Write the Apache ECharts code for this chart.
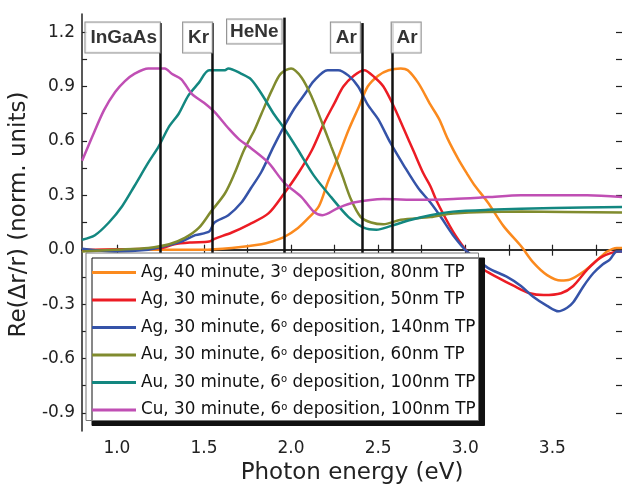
<!DOCTYPE html>
<html>
<head>
<meta charset="utf-8">
<script src="https://cdn.jsdelivr.net/npm/echarts@6/dist/echarts.min.js"></script>
<style>
  html, body { margin: 0; padding: 0; background: #fff; }
  #chart { width: 622px; height: 492px; }
</style>
</head>
<body>
<div id="chart"></div>
<script>
// --- data: [photon energy (eV), Re(dr/r)] ---
const ag80 = [[0.80,-0.005],[1.00,0.0],[1.20,0.0],[1.49,0.0],[1.66,0.01],[1.83,0.03],[1.89,0.045],[1.96,0.07],[2.04,0.12],[2.10,0.175],[2.16,0.24],[2.21,0.37],[2.27,0.51],[2.33,0.66],[2.39,0.79],[2.44,0.90],[2.50,0.96],[2.56,0.99],[2.63,1.0],[2.67,0.99],[2.73,0.92],[2.80,0.80],[2.85,0.72],[2.90,0.61],[2.96,0.50],[3.01,0.42],[3.05,0.36],[3.13,0.26],[3.22,0.13],[3.32,0.02],[3.39,-0.07],[3.47,-0.14],[3.55,-0.17],[3.60,-0.165],[3.68,-0.12],[3.76,-0.055],[3.815,-0.01],[3.87,0.01],[3.90,0.01]];
const ag50 = [[0.80,0.0],[1.26,0.01],[1.33,0.03],[1.43,0.04],[1.53,0.045],[1.56,0.06],[1.66,0.095],[1.76,0.14],[1.87,0.20],[1.96,0.31],[2.04,0.42],[2.12,0.55],[2.19,0.70],[2.25,0.81],[2.30,0.90],[2.36,0.96],[2.42,0.99],[2.48,0.95],[2.53,0.90],[2.59,0.79],[2.65,0.66],[2.705,0.54],[2.76,0.42],[2.80,0.35],[2.84,0.26],[2.93,0.10],[3.01,-0.01],[3.09,-0.10],[3.19,-0.155],[3.28,-0.20],[3.37,-0.24],[3.45,-0.25],[3.55,-0.24],[3.62,-0.20],[3.70,-0.11],[3.775,-0.045],[3.85,-0.015],[3.90,-0.01]];
const ag140 = [[0.80,0.005],[0.99,-0.01],[1.18,0.0],[1.275,0.02],[1.37,0.045],[1.45,0.08],[1.53,0.10],[1.56,0.15],[1.64,0.19],[1.715,0.26],[1.77,0.34],[1.83,0.43],[1.90,0.57],[1.96,0.68],[2.02,0.78],[2.08,0.86],[2.13,0.93],[2.21,0.99],[2.27,0.99],[2.33,0.96],[2.385,0.90],[2.44,0.80],[2.50,0.72],[2.57,0.59],[2.65,0.46],[2.73,0.34],[2.80,0.26],[2.86,0.18],[2.93,0.08],[3.01,-0.01],[3.13,-0.10],[3.24,-0.15],[3.32,-0.20],[3.39,-0.26],[3.47,-0.31],[3.535,-0.34],[3.585,-0.32],[3.62,-0.29],[3.68,-0.20],[3.735,-0.13],[3.79,-0.08],[3.83,-0.055],[3.87,-0.01],[3.90,-0.01]];
const au60 = [[0.80,-0.01],[0.99,0.0],[1.18,0.01],[1.30,0.03],[1.39,0.065],[1.47,0.12],[1.54,0.21],[1.62,0.31],[1.675,0.42],[1.73,0.55],[1.79,0.66],[1.83,0.75],[1.89,0.88],[1.94,0.97],[2.00,1.0],[2.06,0.95],[2.12,0.84],[2.17,0.72],[2.23,0.57],[2.29,0.42],[2.345,0.275],[2.40,0.18],[2.46,0.15],[2.53,0.14],[2.63,0.165],[2.80,0.18],[2.93,0.20],[3.32,0.21],[3.90,0.205]];
const au100 = [[0.80,0.055],[0.874,0.08],[0.954,0.15],[1.03,0.24],[1.10,0.35],[1.18,0.48],[1.24,0.57],[1.30,0.68],[1.355,0.75],[1.41,0.85],[1.47,0.92],[1.53,0.99],[1.62,0.99],[1.64,1.0],[1.715,0.97],[1.77,0.94],[1.83,0.86],[1.90,0.75],[1.96,0.67],[2.04,0.55],[2.13,0.41],[2.23,0.29],[2.33,0.18],[2.42,0.12],[2.49,0.11],[2.57,0.13],[2.69,0.165],[2.80,0.19],[2.93,0.21],[3.13,0.22],[3.51,0.23],[3.90,0.235]];
const cu100 = [[0.80,0.49],[0.857,0.62],[0.926,0.77],[0.99,0.87],[1.046,0.93],[1.10,0.97],[1.18,1.0],[1.275,1.0],[1.315,0.97],[1.37,0.94],[1.43,0.86],[1.50,0.81],[1.56,0.76],[1.64,0.67],[1.70,0.61],[1.77,0.56],[1.87,0.48],[1.96,0.37],[2.06,0.29],[2.13,0.21],[2.18,0.19],[2.27,0.23],[2.36,0.26],[2.53,0.28],[2.73,0.275],[2.93,0.28],[3.13,0.29],[3.32,0.30],[3.70,0.30],[3.90,0.29]];

const seriesNames = [
  'Ag, 40 minute, 3° deposition, 80nm TP',
  'Ag, 30 minute, 6° deposition, 50nm TP',
  'Ag, 30 minute, 6° deposition, 140nm TP',
  'Au, 30 minute, 6° deposition, 60nm TP',
  'Au, 30 minute, 6° deposition, 100nm TP',
  'Cu, 30 minute, 6° deposition, 100nm TP'
];
const seriesData = [ag80, ag50, ag140, au60, au100, cu100];
const seriesColors = ['#fb8a1e', '#ec1c24', '#3553a8', '#808b2e', '#138780', '#c04fb4'];

// laser lines
const laserNames = ['InGaAs', 'Kr', 'HeNe', 'Ar', 'Ar'];
const laserEnergies = [1.25, 1.55, 1.96, 2.41, 2.58];

// ticks / labels
const xTicks = [1.0, 1.25, 1.5, 1.75, 2.0, 2.25, 2.5, 2.75, 3.0, 3.25, 3.5, 3.75];
const xLabels = [1.0, 1.5, 2.0, 2.5, 3.0, 3.5];
const yTicks = [-0.9, -0.75, -0.6, -0.45, -0.3, -0.15, 0.0, 0.15, 0.3, 0.45, 0.6, 0.75, 0.9, 1.05, 1.2];
const yLabels = [-0.9, -0.6, -0.3, 0.0, 0.3, 0.6, 0.9, 1.2];

const FONT = 'DejaVu Sans';
const axisCol = '#222';

const chart = echarts.init(document.getElementById('chart'));

const curveSeries = seriesData.map((d, i) => ({
  name: seriesNames[i],
  type: 'line',
  data: d,
  smooth: 0.3,
  showSymbol: false,
  lineStyle: { color: seriesColors[i], width: 2.5 },
  itemStyle: { color: seriesColors[i] },
  z: 2
}));

const laserSeries = {
  name: 'lasers',
  type: 'scatter',
  silent: true,
  symbolSize: 1,
  itemStyle: { color: 'rgba(0,0,0,0)' },
  z: 6,
  data: laserEnergies.map((e, i) => {
    const item = { value: [e, 1.25] };
    if (i === 4) item.label = { align: 'left' };
    if (i === 2) item.label = { offset: [-2, -3], padding: [3, 3, 2, 3] };
    if (i === 3) item.label = { offset: [-2, 0] };
    return item;
  }),
  label: {
    show: true,
    position: [0, 0],
    align: 'right',
    verticalAlign: 'top',
    formatter: p => laserNames[p.dataIndex],
    fontFamily: 'Liberation Sans',
    fontWeight: 'bold',
    fontSize: 19,
    color: '#000',
    backgroundColor: '#fff',
    borderColor: '#777',
    borderWidth: 1,
    padding: [6, 3, 5, 5]
  },
  markLine: {
    silent: true,
    symbol: ['none', 'none'],
    label: { show: false },
    lineStyle: { color: '#111', width: 2.5, type: 'solid' },
    data: laserEnergies.map((e, i) => [
      { coord: [e, i === 2 ? 1.28 : 1.25] },
      { coord: [e, -0.02] }
    ])
  }
};

const option = {
  animation: false,
  backgroundColor: '#fff',
  textStyle: { fontFamily: FONT },
  grid: { left: 80, right: 0, top: 14, bottom: 61, containLabel: false },
  legend: {
    data: seriesNames,
    orient: 'vertical',
    left: 86,
    top: 253,
    icon: 'rect',
    itemWidth: 44,
    itemHeight: 3,
    itemGap: 10.5,
    padding: [11, 3, 2, 6],
    backgroundColor: '#fff',
    borderColor: '#777',
    borderWidth: 1,
    shadowColor: '#111',
    shadowBlur: 0,
    shadowOffsetX: 6,
    shadowOffsetY: 5,
    selectedMode: false,
    formatter: n => n.replace('°', '{s|o}'),
    textStyle: {
      fontFamily: FONT,
      fontSize: 16.8,
      lineHeight: 16,
      color: '#111',
      rich: { s: { fontSize: 10, lineHeight: 10, fontFamily: FONT, color: '#111', padding: [0, 0, 6, 0] } }
    },
    z: 8
  },
  xAxis: [{
    type: 'value',
    min: 0.8,
    max: 3.9,
    position: 'bottom',
    name: 'Photon energy (eV)',
    nameLocation: 'middle',
    nameGap: 27,
    nameTextStyle: { fontFamily: FONT, fontSize: 23, color: axisCol },
    axisLine: { show: true, lineStyle: { color: axisCol, width: 1.5 } },
    axisTick: { show: true, inside: true, length: 5, customValues: xTicks, lineStyle: { color: axisCol, width: 1.2 } },
    axisLabel: { customValues: xLabels, formatter: v => v.toFixed(1), fontFamily: FONT, fontSize: 17, color: axisCol, margin: 9 },
    splitLine: { show: false }
  }, {
    type: 'value',
    min: 0.8,
    max: 3.9,
    position: 'top',
    axisLine: { show: true, lineStyle: { color: axisCol, width: 1.5 } },
    axisTick: { show: true, inside: true, length: 6, customValues: xTicks, lineStyle: { color: axisCol, width: 1.2 } },
    axisLabel: { show: false },
    splitLine: { show: false }
  }],
  yAxis: [{
    type: 'value',
    min: -1.0,
    max: 1.3,
    position: 'left',
    name: 'Re(Δr/r) (norm. units)',
    nameLocation: 'middle',
    nameGap: 42,
    nameTextStyle: { fontFamily: FONT, fontSize: 23, color: axisCol, padding: [0, 0, 0, 16] },
    axisLine: { show: true, lineStyle: { color: axisCol, width: 1.5 } },
    axisTick: { show: true, inside: true, length: 5, customValues: yTicks, lineStyle: { color: axisCol, width: 1.2 } },
    axisLabel: { customValues: yLabels, formatter: v => v.toFixed(1), fontFamily: FONT, fontSize: 17, color: axisCol, margin: 7 },
    splitLine: { show: false }
  }, {
    type: 'value',
    min: -1.0,
    max: 1.3,
    position: 'right',
    axisLine: { show: false },
    axisTick: { show: true, inside: true, length: 6, customValues: yTicks, lineStyle: { color: axisCol, width: 1.2 } },
    axisLabel: { show: false },
    splitLine: { show: false }
  }],
  series: curveSeries.concat([laserSeries])
};

chart.setOption(option);
</script>
</body>
</html>
